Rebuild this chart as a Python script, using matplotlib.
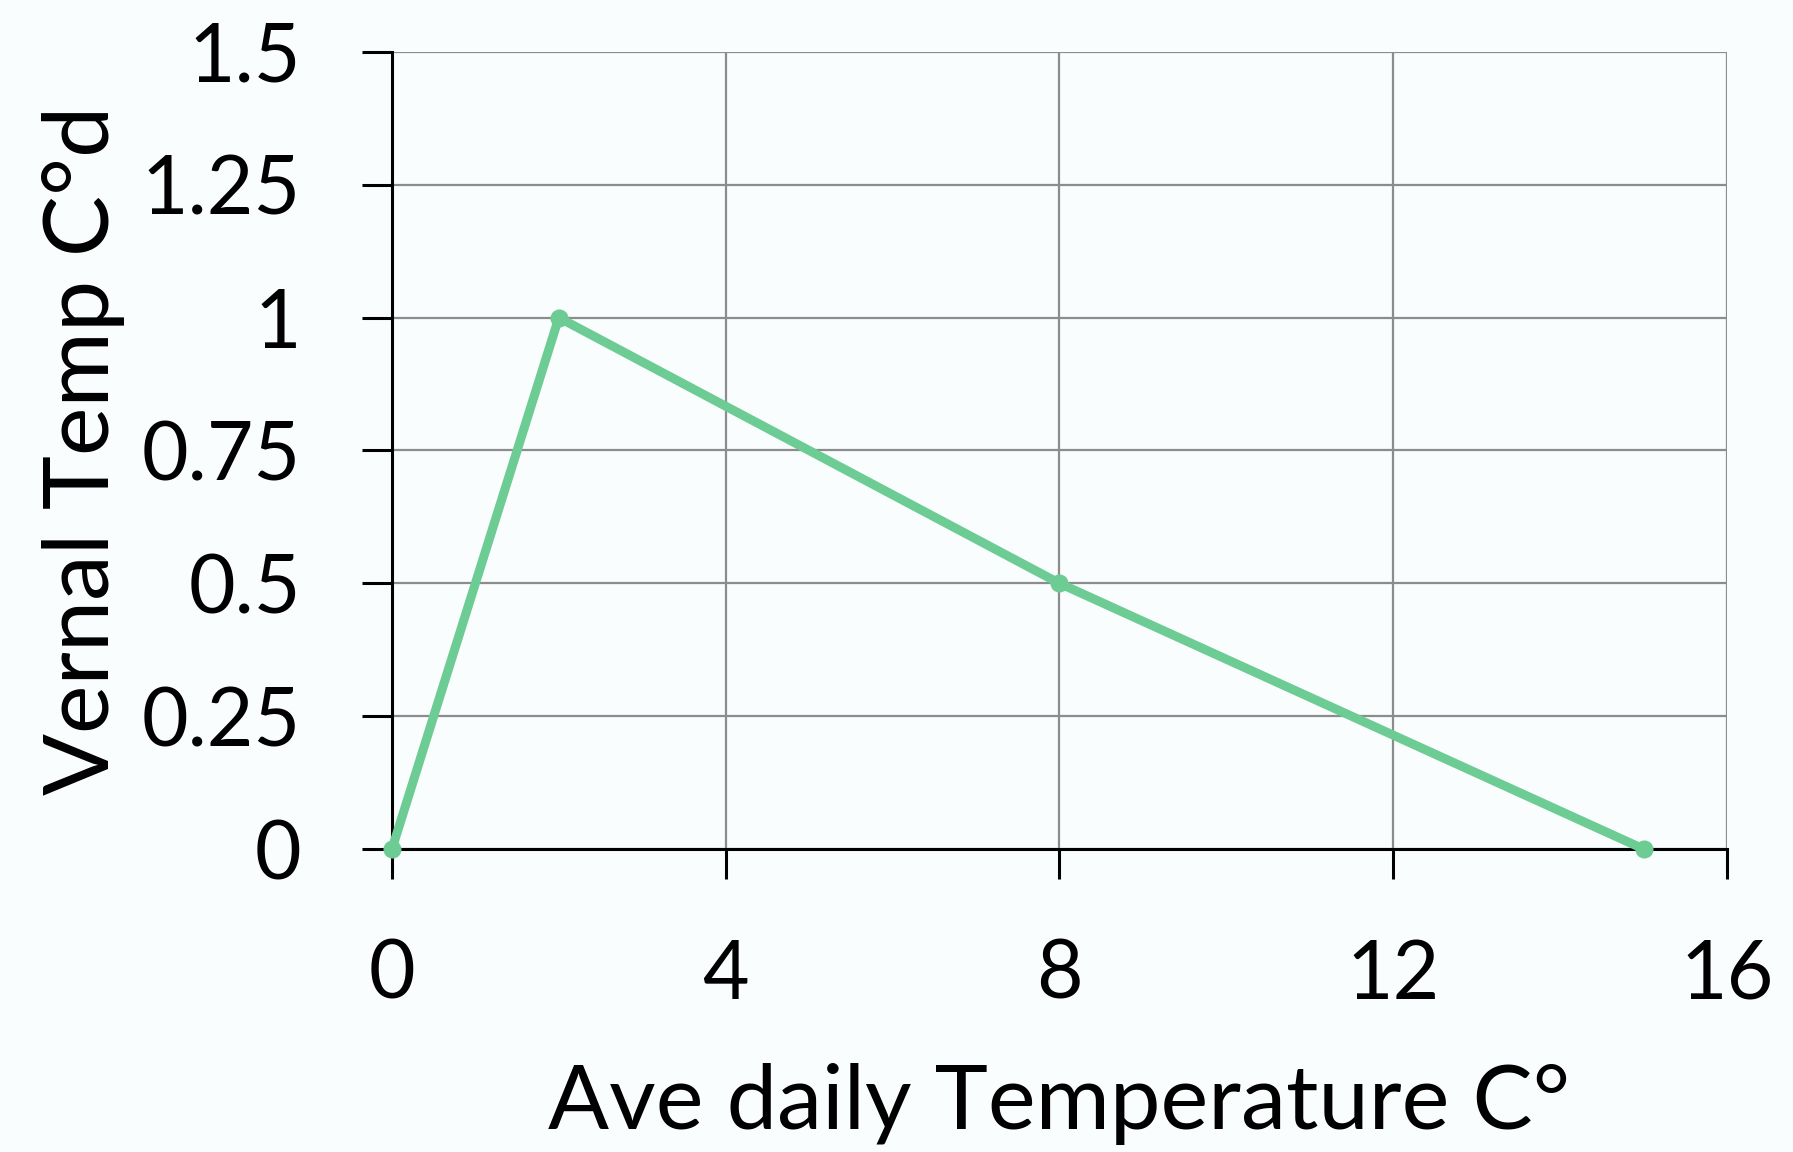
import matplotlib.pyplot as plt

# data
temps = [0, 2, 8, 15]
vernal = [0, 1, 0.5, 0]
x_ticks = [0, 4, 8, 12, 16]
y_ticks = [0, 0.25, 0.5, 0.75, 1, 1.25, 1.5]
y_labels = ['0', '0.25', '0.5', '0.75', '1', '1.25', '1.5']

plt.rcParams['font.family'] = ['Lato', 'DejaVu Sans']

bg = '#fafdfe'
fig = plt.figure(figsize=(17.93, 11.52), dpi=100, facecolor=bg)
ax = fig.add_axes([0.2186, 0.263, 0.7446, 0.6919], facecolor=bg)

ax.plot(temps, vernal, color='#6dcb94', linewidth=6.5, marker='o',
        markersize=12, solid_capstyle='round', zorder=3, clip_on=False)

ax.set_xlim(0, 16)
ax.set_ylim(0, 1.5)
ax.set_xticks(x_ticks)
ax.set_yticks(y_ticks)
ax.set_yticklabels(y_labels)

ax.grid(True, color='#8c8c8c', linewidth=1.6)
ax.set_axisbelow(True)
for s in ['top', 'right']:
    ax.spines[s].set_visible(False)
for s in ['left', 'bottom']:
    ax.spines[s].set_linewidth(2.2)
    ax.spines[s].set_color('black')
    ax.spines[s].set_zorder(2.5)

ax.tick_params(axis='both', direction='out', length=21.6, width=2.2,
               color='black', labelsize=58)
ax.tick_params(axis='x', pad=43)
ax.tick_params(axis='y', pad=44)

ax.set_xlabel('Ave daily Temperature C°', fontsize=65, labelpad=36)
ax.set_ylabel('Vernal Temp C°d', fontsize=66, labelpad=12)

plt.savefig('out.png', dpi=100, facecolor=bg)
